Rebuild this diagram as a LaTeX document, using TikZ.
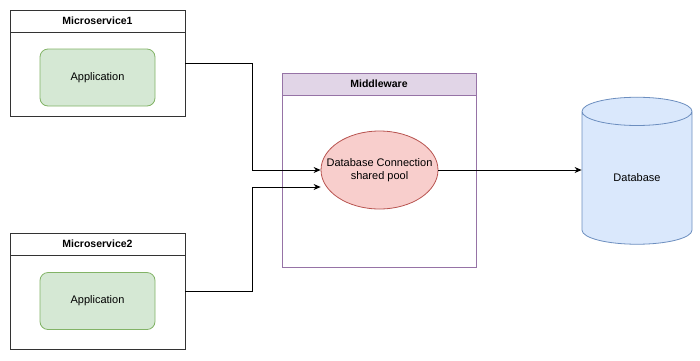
\documentclass[tikz,border=0pt]{standalone}
\usepackage{fontspec}
\setmainfont{Liberation Sans}
\usetikzlibrary{arrows.meta,shapes.geometric}

\definecolor{appfill}{HTML}{D5E8D4}
\definecolor{appline}{HTML}{82B366}
\definecolor{mwfill}{HTML}{E1D5E7}
\definecolor{mwline}{HTML}{9673A6}
\definecolor{poolfill}{HTML}{F8CECC}
\definecolor{poolline}{HTML}{B85450}
\definecolor{dbfill}{HTML}{DAE8FC}
\definecolor{dbline}{HTML}{6C8EBF}

\tikzset{
    box/.style={draw=black!80, line width=0.8pt, inner sep=0pt, minimum width=175pt},
    boxhead/.style={box, minimum height=22pt, font=\fontsize{10.5}{12}\selectfont\bfseries},
    plain/.style={font=\fontsize{11}{13}\selectfont},
    app/.style={plain, draw=appline, fill=appfill, line width=0.8pt, rounded corners=8pt, inner sep=0pt,
        minimum width=115pt, minimum height=57pt},
    link/.style={line width=0.8pt, -{Stealth[length=7pt,width=6pt]}}
}

\begin{document}
\begin{tikzpicture}[x=1pt, y=-1pt]
            \useasboundingbox (0,0) rectangle (700,360);

            % microservices
            \node[box, minimum height=106pt] (ms1) at (97.5,63) {};
            \node[boxhead, anchor=north] (ms1head) at (ms1.north) {Microservice1};
            \node[app] (app1) at (97.5,77.5) {Application};

            \node[box, minimum height=116pt] (ms2) at (97.5,291) {};
            \node[boxhead, anchor=north] (ms2head) at (ms2.north) {Microservice2};
            \node[app] (app2) at (97.5,301) {Application};

            % middleware
            \node[box, draw=mwline, minimum width=194pt, minimum height=194pt] (mw) at (379,170) {};
            \node[boxhead, draw=mwline, fill=mwfill, minimum width=194pt, anchor=north] (mwhead) at (mw.north) {Middleware};
            \node[ellipse, draw=poolline, fill=poolfill, line width=0.8pt, inner sep=0pt,
                minimum width=117pt, minimum height=78pt] (pool) at (379.5,170) {};
            \node[plain, align=center, inner sep=0pt] (pooltext) at (pool.center) {Database Connection\\shared pool};

            % database
            \node[plain, cylinder, shape border rotate=90, aspect=0.6, draw=dbline, fill=dbfill, line width=0.8pt,
                inner sep=0pt, minimum width=110pt, minimum height=147pt] (db) at (637,178) {Database};

            % connectors
            \coordinate (bend) at (252,0);
            \coordinate (in2) at ([yshift=-17pt]pool.west);
            \draw[link] (ms1.east) -| (bend |- pool.west) -- (pool.west);
            \draw[link] (ms2.east) -| (bend |- in2) -- (in2);
            \draw[link] (pool.east) -- (pool.east -| db.west);
\end{tikzpicture}
\end{document}
